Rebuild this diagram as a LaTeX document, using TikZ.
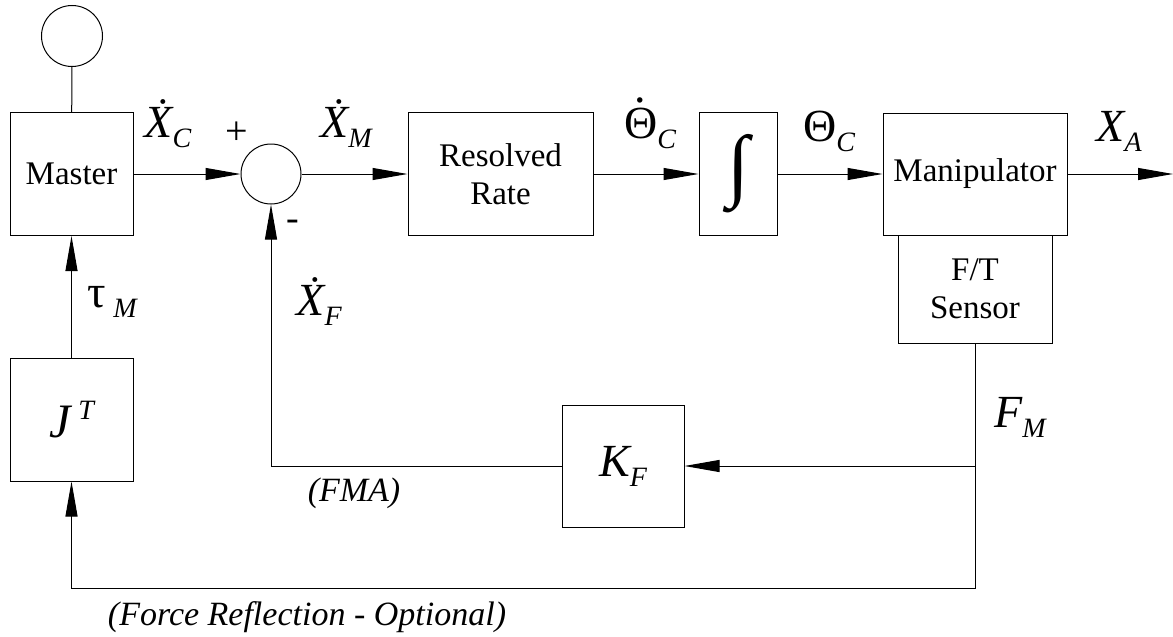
\documentclass[tikz,border=0pt]{standalone}
\usepackage{fontspec}
\setmainfont{Liberation Serif}
\usetikzlibrary{arrows.meta}

\tikzset{
  block/.style={draw, line width=1pt, inner sep=0pt, align=center,
                font=\fontsize{33}{38}\selectfont},
  junction/.style={circle, draw, line width=1pt, inner sep=0pt, minimum size=60pt},
  arr/.style={-{Triangle[length=35pt,width=12pt]}, line width=1pt},
  sig/.style={inner sep=0pt, font=\fontsize{46}{46}\selectfont},
  note/.style={inner sep=0pt, font=\fontsize{34}{34}\selectfont\itshape}
}
\newcommand\sub[1]{\raisebox{-10pt}{\fontsize{28}{28}\selectfont\itshape #1}}
\newcommand\dotover[1]{\ooalign{#1\cr\hidewidth\raisebox{0.78em}{.}\hidewidth\cr}}

\begin{document}
\begin{tikzpicture}[x=1pt, y=-1pt]

    \useasboundingbox (0,0) rectangle (1173,637);

    % Forward path
    \node[junction, minimum size=61pt] (knob) at (72,36) {};
    \node[block, minimum width=123pt, minimum height=123pt] (master) at (71.5,174) {Master};
    \node[junction] (sum) at (271,174) {};
    \node[block, minimum width=185pt, minimum height=123pt] (rate) at (500.5,174) {Resolved\\Rate};
    \node[block, minimum width=78pt, minimum height=123pt] (intg) at (738,174) {\fontsize{80}{80}\selectfont ∫};
    \node[block, minimum width=184pt, minimum height=122pt] (manip) at (975,174) {Manipulator};
    \node[block, minimum width=154pt, minimum height=108pt] (sensor) at (975,289) {F/T\\Sensor};
    \coordinate (out) at (1173,174);

    % Feedback blocks
    \node[block, minimum width=123pt, minimum height=123pt] (jt) at (71.5,419.5)
        {\fontsize{48}{48}\selectfont\itshape J\,\raisebox{18pt}{\fontsize{28}{28}\selectfont T}};
    \node[block, minimum width=122pt, minimum height=122pt] (kf) at (623,466)
        {\fontsize{46}{46}\selectfont\itshape K\sub{F}};
    \coordinate (bot) at (975,588);

    % Connectors
    \draw[line width=1pt] (knob) -- (master);
    \draw[arr] (master) -- (sum);
    \draw[arr] (sum) -- (rate);
    \draw[arr] (rate) -- (intg);
    \draw[arr] (intg) -- (manip);
    \draw[arr] (manip) -- (out);
    \draw[arr] (sensor.south) |- (kf);
    \draw[arr] (kf) -| (sum);
    \draw[arr] (sensor.south) -- (bot) -| (jt);
    \draw[arr] (jt) -- (master);

    % Signal labels
    \node[sig] (xc) at (168,124) {\itshape Ẋ\sub{C}};
    \node[sig] (xm) at (346,124) {\itshape Ẋ\sub{M}};
    \node[sig] (thdot) at (650,128) {\dotover{Θ}\sub{C}};
    \node[sig] (th) at (829,131) {Θ\sub{C}};
    \node[sig] (xa) at (1119,131) {\itshape X\sub{A}};
    \node[sig] (tau) at (112,302) {τ\,\sub{M}};
    \node[sig] (xf) at (319,302) {\itshape Ẋ\sub{F}};
    \node[sig] (fm) at (1020,417) {\itshape F\sub{M}};
    \node[block, draw=none, font=\fontsize{40}{40}\selectfont] (plus) at (237,133) {+};
    \node[block, draw=none, font=\fontsize{38}{38}\selectfont] (minus) at (293,225) {-};

    % Notes
    \node[note] (fma) at (354,493) {(FMA)};
    \node[note] (refl) at (307,617) {(Force Reflection - Optional)};

\end{tikzpicture}
\end{document}
